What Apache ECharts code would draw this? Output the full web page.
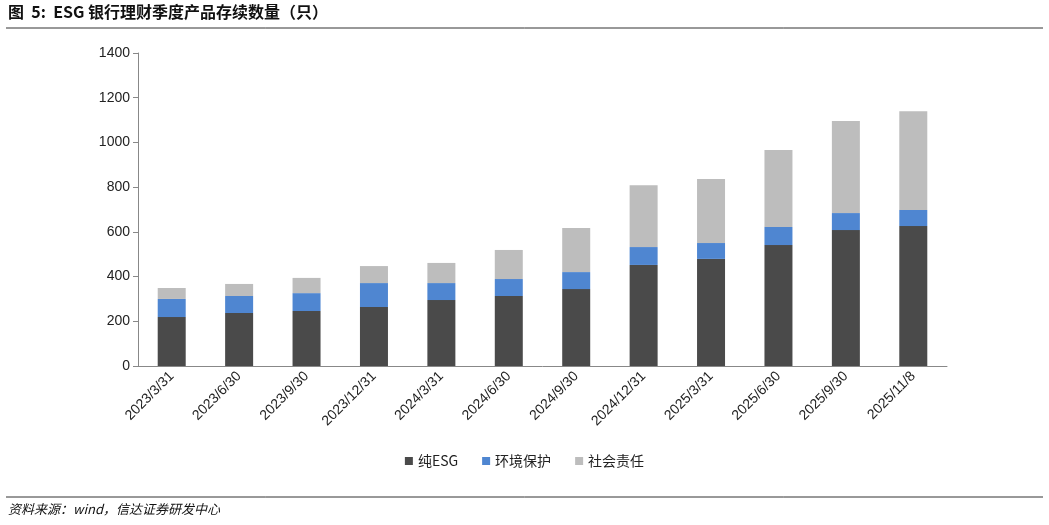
<!DOCTYPE html>
<html><head><meta charset="utf-8">
<script src="https://cdn.jsdelivr.net/npm/echarts@6/dist/echarts.min.js"></script>
<style>body{margin:0;background:#fff}#c{width:1049px;height:525px}</style>
</head><body><div id="c"></div>
<script>
const categories = ['2023/3/31','2023/6/30','2023/9/30','2023/12/31','2024/3/31','2024/6/30','2024/9/30','2024/12/31','2025/3/31','2025/6/30','2025/9/30','2025/11/8'];
const pureESG = [219,237,246,264,295,313,344,452,479,541,608,626];
const environment = [81,76,80,107,76,76,76,80,71,81,76,72];
const social = [49,54,68,76,90,130,197,277,286,344,412,442];
const yTicks = [0,200,400,600,800,1000,1200,1400];

const font = '"Noto Sans CJK SC", "Liberation Sans", sans-serif';
const latin = '"Liberation Sans", Arial, sans-serif';
const chart = echarts.init(document.getElementById('c'));
chart.setOption({
  animation: false,
  textStyle: { fontFamily: font },
  graphic: [
    { type: 'text', left: 8, top: 4, style: { text: '图  5:  ESG 银行理财季度产品存续数量（只）', font: 'bold 16px ' + font, fill: '#111' } },
    { type: 'line', shape: { x1: 6, y1: 28, x2: 1043, y2: 28 }, style: { stroke: '#333', lineWidth: 1 } },
    { type: 'line', shape: { x1: 6, y1: 497, x2: 1043, y2: 497 }, style: { stroke: '#333', lineWidth: 1 } },
    { type: 'text', left: 8, top: 503, style: { text: '资料来源：wind，信达证券研发中心', font: 'italic 13px ' + font, fill: '#111' } }
  ],
  legend: {
    bottom: 52, left: 'center', itemWidth: 8, itemHeight: 8, itemGap: 24, icon: 'rect',
    textStyle: { fontSize: 14, color: '#222' },
    data: ['纯ESG', '环境保护', '社会责任']
  },
  grid: { left: 138, right: 102, top: 53, bottom: 159 },
  xAxis: {
    type: 'category', data: categories,
    axisLine: { lineStyle: { color: '#888' } }, axisTick: { show: false },
    axisLabel: { rotate: 45, fontSize: 14, color: '#222', fontFamily: latin, interval: 0 }
  },
  yAxis: {
    type: 'value', min: yTicks[0], max: yTicks[yTicks.length - 1], interval: 200,
    splitLine: { show: false },
    axisLine: { show: true, lineStyle: { color: '#888' } },
    axisTick: { show: true, lineStyle: { color: '#888' } },
    axisLabel: { fontSize: 14, color: '#222', fontFamily: latin, formatter: v => String(v) }
  },
  series: [
    { name: '纯ESG', type: 'bar', stack: 's', barWidth: 28, data: pureESG, itemStyle: { color: '#4a4a4a' } },
    { name: '环境保护', type: 'bar', stack: 's', data: environment, itemStyle: { color: '#4f86d1' } },
    { name: '社会责任', type: 'bar', stack: 's', data: social, itemStyle: { color: '#bdbdbd' } }
  ]
});
</script></body></html>
